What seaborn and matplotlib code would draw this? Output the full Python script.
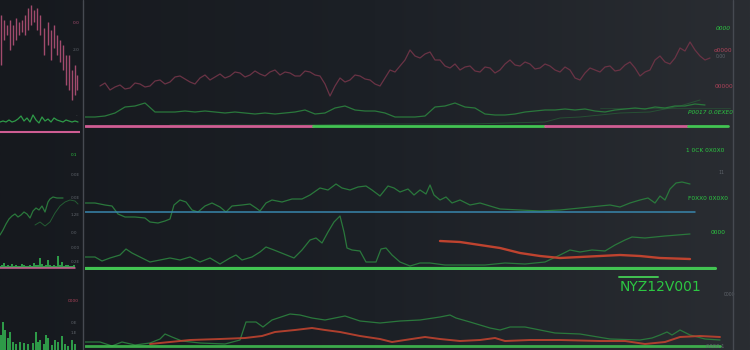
import numpy as np
import matplotlib
matplotlib.use("Agg")
import matplotlib.pyplot as plt
from matplotlib.lines import Line2D
from matplotlib.colors import LinearSegmentedColormap
import seaborn as sns

# ------------------------------------------------------------------ data
# --- main panel, top row (levels, 0..130) ---
price_x0, price_dx = 100, 5
price = [44, 47, 40, 43, 45, 41, 42, 47, 46, 43, 44, 49, 50, 46, 48, 53, 54, 51, 48, 46,
         52, 55, 50, 53, 56, 52, 54, 58, 57, 53, 55, 59, 56, 54, 58, 60, 55, 58, 57, 54,
         54, 59, 58, 55, 54, 46, 34, 44, 52, 48, 50, 55, 54, 51, 50, 46, 44, 52, 60, 58,
         64, 70, 80, 74, 72, 76, 78, 70, 70, 64, 62, 66, 60, 63, 64, 59, 58, 63, 62, 57,
         60, 66, 70, 65, 64, 68, 66, 61, 62, 66, 64, 60, 58, 63, 60, 52, 50, 57, 62, 60,
         58, 63, 64, 59, 60, 65, 68, 62, 54, 58, 60, 70, 74, 68, 66, 72, 82, 79, 88, 80,
         74, 70, 72]
ind_x0, ind_dx = 85, 10
indicator = [13, 13, 14, 17, 23, 24, 27, 18, 18, 18, 19, 18, 19, 18, 17, 18, 17, 16, 17, 16,
             17, 18, 20, 16, 17, 22, 24, 20, 19, 19, 17, 13, 13, 13, 14, 23, 24, 27, 23, 22,
             16, 15, 15, 16, 18, 19, 20, 20, 21, 20, 21, 19, 18, 20, 21, 22, 21, 23, 22, 24,
             24, 26, 25]
slow_x = [170, 300, 380, 470, 545, 560, 580, 600, 620, 650, 680, 700]
slow = [5, 5, 6, 6, 8, 12, 13, 15, 17, 18, 24, 30]
band_breaks = [85, 313, 545, 688, 728]
band_level = 4
top_ref_level = 22

# --- main panel, middle row (levels, 0..140) ---
upper_x = [85, 95, 105, 112, 118, 125, 135, 145, 150, 158, 165, 170, 174, 180, 186, 192, 198,
           205, 212, 220, 226, 232, 242, 250, 256, 260, 266, 272, 282, 292, 302, 310, 320,
           328, 336, 342, 350, 358, 366, 372, 380, 388, 394, 400, 408, 414, 420, 426, 430,
           434, 440, 446, 452, 460, 470, 480, 490, 500, 520, 540, 560, 580, 600, 610, 620,
           630, 640, 648, 655, 660, 665, 670, 676, 682, 690]
upper = [67, 67, 65, 64, 56, 53, 53, 52, 48, 47, 49, 51, 65, 70, 68, 60, 58, 64, 67, 63, 58,
         64, 65, 66, 62, 59, 67, 70, 68, 71, 71, 75, 82, 80, 86, 82, 80, 83, 84, 80, 74, 84,
         82, 78, 81, 75, 80, 76, 85, 75, 70, 73, 67, 70, 65, 67, 64, 61, 60, 59, 60, 62, 64,
         65, 63, 67, 70, 72, 67, 74, 70, 81, 87, 88, 86]
blue_level, blue_span = 58, (85, 695)
lower_x = [85, 95, 102, 110, 120, 126, 132, 142, 150, 160, 170, 180, 190, 200, 210, 220, 230,
           236, 242, 252, 260, 266, 274, 284, 294, 302, 310, 316, 322, 328, 334, 340, 344,
           347, 352, 360, 366, 376, 381, 386, 392, 400, 410, 420, 430, 445, 465, 485, 505,
           525, 545, 560, 570, 580, 592, 605, 615, 625, 632, 645, 665, 690]
lower = [13, 13, 9, 12, 15, 21, 17, 12, 8, 10, 12, 10, 13, 8, 12, 6, 12, 15, 10, 13, 18, 23,
         20, 16, 12, 20, 30, 32, 27, 38, 48, 54, 38, 22, 20, 19, 8, 8, 21, 22, 15, 8, 4, 7, 7,
         5, 5, 5, 7, 6, 8, 15, 20, 18, 20, 19, 25, 30, 33, 32, 34, 36]
red_mid_x = [440, 460, 480, 500, 520, 540, 560, 580, 600, 620, 640, 660, 690]
red_mid = [29, 28, 25, 22, 17, 14, 12, 13, 14, 15, 14, 12, 11]
mid_band_level, mid_band_span = 2, (85, 715)

# --- main panel, bottom row (levels, 0..80) ---
bot_green_x = [85, 100, 112, 122, 135, 150, 160, 165, 172, 182, 200, 225, 240, 246, 256, 263,
               272, 290, 300, 312, 325, 335, 345, 360, 380, 400, 420, 440, 450, 456, 470, 490,
               500, 510, 525, 540, 555, 580, 610, 640, 652, 660, 667, 672, 680, 690, 705, 720]
bot_green = [8, 8, 4, 8, 5, 7, 11, 16, 13, 9, 7, 6, 10, 28, 28, 23, 30, 36, 35, 32, 30, 32, 34,
             29, 27, 29, 30, 33, 35, 32, 28, 22, 20, 23, 23, 20, 17, 16, 11, 10, 12, 15, 18,
             15, 20, 15, 11, 10]
bot_red_x = [150, 170, 190, 220, 245, 262, 275, 295, 312, 325, 340, 360, 380, 392, 405, 425,
             440, 460, 480, 495, 505, 530, 560, 600, 625, 645, 665, 680, 700, 720]
bot_red = [6, 8, 10, 11, 12, 14, 18, 20, 22, 20, 18, 14, 11, 8, 10, 13, 11, 9, 10, 12, 9, 10,
           10, 9, 9, 6, 8, 13, 14, 13]
bot_band_level, bot_band_span = 4, (85, 720)
ticker = "NYZ12V001"
ticker_level, ticker_x = 63, 620
ticker_bar = (619, 658, 73)

# --- left panel ---
candle_x = [1, 4, 7, 10, 13, 16, 19, 22, 25, 28, 31, 34, 37, 40, 44, 48, 51, 54, 57, 60, 63,
            66, 69, 72, 75, 77]
candle_lo = [65, 90, 95, 80, 85, 90, 95, 98, 95, 100, 105, 108, 100, 95, 75, 85, 70, 82, 75,
             68, 60, 45, 40, 30, 35, 40]
candle_hi = [115, 110, 105, 110, 105, 112, 108, 110, 115, 122, 125, 120, 122, 115, 102, 108,
             100, 105, 95, 90, 85, 75, 75, 60, 65, 55]
left_vol = [8, 9, 8, 10, 8, 9, 11, 14, 9, 12, 8, 15, 10, 7, 13, 9, 11, 8, 12, 10, 9, 8, 10, 9,
            8, 9, 8]
left_a_x = [0, 3, 6, 9, 12, 15, 18, 21, 24, 27, 30, 33, 36, 39, 42, 45, 48, 50, 53, 57, 63]
left_a = [35, 40, 46, 51, 54, 56, 53, 55, 58, 56, 52, 59, 62, 60, 64, 58, 68, 71, 73, 72, 72]
left_b_x = [35, 40, 45, 50, 55, 60, 65, 70, 75, 78]
left_b = [45, 48, 44, 48, 57, 64, 68, 70, 69, 66]
left_mid_bars = [2, 3, 5, 2, 3, 2, 4, 2, 3, 2, 2, 4, 3, 2, 2, 3, 2, 5, 3, 3, 10, 4, 2, 3, 8,
                 3, 2, 3, 2, 12, 3, 6, 2, 3, 3, 2, 2, 3]
left_bot_x = [1, 3, 5, 8, 10, 13, 16, 20, 24, 28, 33, 36, 38, 40, 44, 46, 48, 52, 55, 58, 62,
              65, 68, 72, 75]
left_bot = [15, 28, 20, 12, 18, 8, 6, 8, 7, 6, 7, 18, 8, 10, 6, 15, 12, 5, 10, 8, 14, 6, 4,
            10, 6]

# ------------------------------------------------------------------ style
sns.set_theme(style="dark")
plt.rcParams["font.family"] = ["DejaVu Sans"]
MAROON = "#6a3345"
GREEN = "#2a783c"
BRIGHT = "#42c452"
PINK = "#cf5d93"
BLUE = "#3886ac"
RED = "#bf432f"
GREY = "#5f646b"
TXTG = "#2cc742"
CANDLE = "#a24b6d"

W, H = 750, 350
fig = plt.figure(figsize=(7.5, 3.5), dpi=100)

bg = fig.add_axes([0, 0, 1, 1], zorder=-5)
grad = np.linspace(0, 1, 256)[None, :]
cmap = LinearSegmentedColormap.from_list("bg", ["#16191e", "#1c2026", "#2a2d32"])
bg.imshow(grad, aspect="auto", cmap=cmap, extent=[0, 1, 0, 1])
bg.axis("off")

rows = {"top": (0, 130), "mid": (130, 270), "bot": (270, 350)}


def make_ax(x0, x1, row):
    t, b = rows[row]
    ax = fig.add_axes([x0 / W, 1 - b / H, (x1 - x0) / W, (b - t) / H])
    ax.set_facecolor("none")
    ax.set_xlim(x0, x1)
    ax.set_ylim(0, b - t)
    ax.axis("off")
    return ax


def line(ax, x, y, color, lw=1.0, alpha=1.0):
    sns.lineplot(x=np.asarray(x, float), y=np.asarray(y, float), ax=ax, color=color,
                 linewidth=lw, alpha=alpha, legend=False, estimator=None, sort=False)


# ---------------- main top
ax = make_ax(85, 750, "top")
px = price_x0 + price_dx * np.arange(len(price))
line(ax, px, price, MAROON, 0.9)
ix = ind_x0 + ind_dx * np.arange(len(indicator))
line(ax, ix, indicator, GREEN, 0.9)
line(ax, slow_x, slow, GREEN, 0.7, 0.5)
line(ax, [600, 730], [top_ref_level, top_ref_level], GREEN, 0.6, 0.4)
for i in range(len(band_breaks) - 1):
    c = PINK if i % 2 == 0 else BRIGHT
    line(ax, [band_breaks[i], band_breaks[i + 1]], [band_level, band_level], c, 2.0)
kw = dict(fontsize=4.2, ha="left", va="center", clip_on=False)
ax.text(716, 102, "0000", color=TXTG, style="italic", **kw)
ax.text(714, 80, "o0000", color="#b0435a", **kw)
ax.text(716, 74, "0.00", color=GREY, fontsize=3.3, ha="left", va="center")
ax.text(715, 43, "00000", color="#b0435a", **kw)
ax.text(688, 18, "P0017 0.0EXE0", color=TXTG, style="italic", **kw)

# ---------------- main middle
ax = make_ax(85, 750, "mid")
line(ax, upper_x, upper, GREEN, 0.9)
line(ax, blue_span, [blue_level, blue_level], BLUE, 1.1)
line(ax, lower_x, lower, GREEN, 0.9)
line(ax, red_mid_x, red_mid, RED, 1.7)
line(ax, mid_band_span, [mid_band_level, mid_band_level], BRIGHT, 2.3)
ax.text(686, 120, "1 0CK 0X0X0", color=TXTG, **kw)
ax.text(718, 97, "11", color=GREY, fontsize=3.3, ha="left", va="center")
ax.text(688, 72, "F0XX0 0X0X0", color=TXTG, **kw)
ax.text(711, 37, "0000", color=TXTG, **kw)

# ---------------- main bottom
ax = make_ax(85, 750, "bot")
line(ax, bot_green_x, bot_green, GREEN, 0.9)
line(ax, bot_red_x, bot_red, RED, 1.4, 0.9)
line(ax, bot_band_span, [bot_band_level, bot_band_level], BRIGHT, 2.0, 0.85)
line(ax, ticker_bar[:2], [ticker_bar[2], ticker_bar[2]], BRIGHT, 1.4)
ax.text(ticker_x, ticker_level, ticker, color=TXTG, fontsize=10, ha="left", va="center")
ax.text(724, 56, "0000", color=GREY, fontsize=3.3, ha="left", va="center")
ax.text(706, 4, "0000 1", color=GREY, fontsize=3.8, ha="left", va="center")

# ---------------- left top
ax = make_ax(0, 80, "top")
ax.vlines(candle_x, candle_lo, candle_hi, color=CANDLE, linewidth=1.0)
line(ax, 3 * np.arange(len(left_vol)), left_vol, "#2e9a48", 0.9)
ax.text(73, 107, "0.0", color=CANDLE, fontsize=3.2, ha="left", va="center")
ax.text(73, 80, "2.0", color=GREY, fontsize=3.2, ha="left", va="center")
ax.text(76, 15, "-", color=GREY, fontsize=3.2, ha="left", va="center")

# ---------------- left middle
ax = make_ax(0, 80, "mid")
line(ax, [0, 80], [138, 138], PINK, 1.5)
line(ax, left_a_x, left_a, GREEN, 0.9)
line(ax, left_b_x, left_b, GREEN, 0.7, 0.7)
ax.bar(2 * np.arange(len(left_mid_bars)), left_mid_bars, bottom=2, width=1.4,
       color="#2e9a48", linewidth=0)
line(ax, [0, 75], [2, 2], PINK, 1.1)
for lv, tx in [(115, "0.1"), (95, "0.0E"), (72, "0.0E"), (55, "1.2E"), (37, "0.0"),
               (22, "0.00"), (8, "0.2E")]:
    ax.text(71, lv, tx, color=GREY if tx != "0.1" else TXTG, fontsize=3.0,
            ha="left", va="center")

# ---------------- left bottom
ax = make_ax(0, 80, "bot")
ax.bar(left_bot_x, left_bot, width=1.6, color="#2e9a48", linewidth=0)
ax.text(68, 49, "0000", color="#b0435a", fontsize=3.2, ha="left", va="center")
ax.text(71, 27, "0.E", color=GREY, fontsize=3.0, ha="left", va="center")
ax.text(71, 17, "1.E", color=GREY, fontsize=3.0, ha="left", va="center")

for xp in (83, 733):
    fig.add_artist(Line2D([xp / W, xp / W], [0, 1], transform=fig.transFigure,
                          color="#464a51", linewidth=1.0))

fig.savefig("out.png", dpi=100, facecolor="#1b1e23")
